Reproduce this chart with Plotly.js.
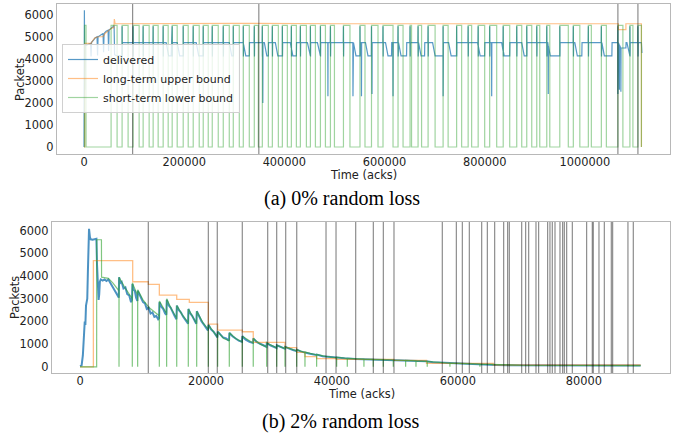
<!DOCTYPE html>
<html><head><meta charset="utf-8">
<script src="https://cdn.plot.ly/plotly-3.0.1.min.js"></script>
<style>html,body{margin:0;padding:0;background:#fff}#chart{width:681px;height:435px}</style>
</head><body><div id="chart"></div>
<script>
// ---------- labels / ticks ----------
const seriesNames = ['delivered', 'long-term upper bound', 'short-term lower bound'];
const topXTicks = [0, 200000, 400000, 600000, 800000, 1000000];
const botXTicks = [0, 20000, 40000, 60000, 80000];
const yTicks = [0, 1000, 2000, 3000, 4000, 5000, 6000];
const captions = ['(a) 0% random loss', '(b) 2% random loss'];
const xTitle = 'Time (acks)', yTitle = 'Packets';

// ---------- (a) 0% random loss ----------
const topVlines = [97000, 349000, 1066000, 1106000];
const topOrange = [[0,0],[1500,0],[1500,4700],[14000,4700],[18000,4850],[22000,4950],[28000,5000],[38000,5000],[42000,5150],[46000,5250],[50000,5300],[56000,5400],[59500,5400],[60500,5800],[62000,5590],[300000,5610],[520000,5590],[1067000,5590],[1067000,5320],[1082000,5320],[1082000,5590],[1113000,5590],[1113000,0]];
const topGreenLevel = 5520;
const topGreenPulses = [[1000,4000],[54000,66000],[76000,88000],[98000,110000],[118000,130000],[138000,148000],[158000,168000],[176000,186000],[198000,208000],[218000,230000],[238000,248000],[256000,268000],[278000,290000],[298000,310000],[318000,330000],[340000,348000],[356000,368000],[376000,388000],[396000,406000],[414000,424000],[432000,444000],[452000,462000],[472000,482000],[492000,500000],[518000,531000],[551000,561000],[574000,587000],[597000,617000],[627000,637000],[651000,654000],[667000,674000],[687000,701000],[717000,727000],[744000,754000],[767000,774000],[787000,800000],[810000,824000],[837000,850000],[864000,874000],[884000,894000],[904000,910000],[924000,930000],[950000,967000],[977000,990000],[1007000,1013000],[1033000,1043000],[1066000,1076000],[1090000,1096000],[1106000,1113000]];
const topBlueStart = [[0,0],[700,6200],[1400,2600],[2200,4600],[8000,4650],[13000,4700],[14000,4100],[15000,4750],[19000,4850],[22000,4950],[26000,5000],[27000,4150],[28000,5000],[34000,5100],[38000,5150],[39000,4300],[40000,5150],[44000,5250],[48000,5300],[49000,4350],[50000,5300],[55000,5400],[58000,5450],[60000,5500],[61000,4200],[63000,4150],[70000,4150],[75500,4150],[76000,4730]];
const topBlueBase = 4730;
const topBlueSpikeTop = 5480;
const topBlueSpikeBottom = 4100;
const topBlueLows = [[164000,174000,4130],[186000,198000,4130],[224000,238000,4130],[290000,298000,4130],[318000,330000,4130],[360000,368000,4130],[382000,396000,4130],[412000,424000,4130],[446000,452000,4130],[466000,472000,4130],[538000,551000,4130],[562000,574000,4130],[602000,614000,4130],[628000,644000,4130],[668000,680000,4130],[696000,717000,4130],[728000,744000,4130],[786000,800000,4130],[834000,850000,4130],[874000,884000,4130],[926000,950000,4130],[980000,994000,4130],[1034000,1054000,4130],[1067000,1082000,4490],[1084000,1090000,4130]];
const topBlueDips = [[357000,2000],[487000,2300],[537000,2300],[554000,2300],[575000,2400],[617000,2300],[717000,2300],[814000,2300],[927000,2400],[1066000,2400],[1069000,2600],[1072000,2500]];
const topBlueEnd = [[1113000,4730],[1114000,4260]];

// ---------- (b) 2% random loss ----------
const botVlines = [10840,20370,21790,25760,29790,31220,32650,34400,39050,40640,43760,46560,48150,49840,57510,59740,60690,61800,63760,64660,65820,67250,67880,68150,70110,70740,71220,72380,72800,74230,74600,74970,75400,76190,76610,76880,77250,78150,80420,81320,81480,82380,83230,84340,84550,86980,87830];
const botOrange = [[0,0],[2120,4680],[8360,3750],[10840,3630],[12590,3160],[15350,2970],[17350,2840],[20370,1880],[21850,1620],[25760,1545],[27500,1080],[32540,850],[34390,640],[35710,450],[37560,360],[40700,330],[49840,280],[55000,150],[65600,80],[89000,80]];
const botBlue = [[0,30],[250,60],[450,500],[550,850],[650,1500],[750,2000],[850,1850],[950,2700],[1050,2950],[1150,3000],[1250,4200],[1350,5200],[1430,6080],[1500,5900],[1580,5700],[1700,5620],[2000,5600],[2300,5620],[2600,5640],[2700,4500],[2850,3100],[2950,2950],[3050,3200],[3150,3750],[3300,3850],[3600,3800],[3900,3850],[4200,3780],[4500,3850],[4800,3700],[5100,3550],[5400,3400],[5700,3250],[6000,3150],[6150,3050],
[6200,3950],[6400,3700],[6600,3750],[6900,3450],[7200,3500],[7500,3200],[7800,3150],[8100,2850],[8250,2950],
[8320,3650],[8500,3400],[8700,3350],[8900,3050],[9100,2900],
[9170,3350],[9400,3200],[9700,3050],[10000,2850],[10300,2800],[10600,2550],[10900,2600],[11200,2350],[11500,2400],[11800,2200],[12100,2250],[12400,2100],[12550,2150],
[12610,2850],[12900,2650],[13200,2550],[13500,2350],[13700,2300],
[13770,2950],[14100,2700],[14400,2600],[14700,2400],[15000,2250],[15300,2100],
[15370,2700],[15700,2500],[16000,2400],[16400,2200],[16800,2050],[17150,1900],
[17210,2550],[17500,2350],[17800,2250],[18100,2050],[18450,1900],
[18540,2450],[18900,2200],[19300,2000],[19700,1850],[20000,1700],[20300,1600],
[20390,1850],[20800,1650],[21200,1550],[21600,1350],[21800,1300],
[21870,1550],[22300,1400],[22700,1300],[23200,1250],[23650,1150],
[23720,1500],[24200,1350],[24700,1250],[25200,1150],[25700,1100],
[25780,1350],[26300,1200],[26900,1100],[27450,1050],
[27520,1250],[28000,1100],[28600,1000],[29100,950],[29600,880],
[29650,1050],[30200,950],[30700,900],[31200,830],
[31240,950],[31800,880],[32500,800],
[32560,880],[33200,800],[33800,740],[34350,700],
[34410,760],[35000,680],[35700,620],
[35730,650],[36500,580],[37500,520],
[37580,540],[38500,470],[39500,440],[40700,400],
[40760,430],[42000,380],[43700,350],[46000,330],[48000,320],[50000,290],[52000,270],[55000,240],[56000,200],[58000,170],[60000,150],[62000,130],[64000,110],[66000,80],[68000,70],[72000,60],[78000,55],[84000,55],[89000,55]];
const botGreen = [[0,0],[2640,0],[2650,5600],[3400,5600],[3420,3950],[4500,3900],[5200,3700],[6000,3400],[6180,3350],[6190,0],[6200,3950],[7000,3550],[7800,3200],[8290,3000],[8300,0],[8310,3700],[9140,3150],[9150,0],[9160,3400],[10000,2950],[11000,2600],[12580,2250],[12590,0],[12600,2900],[13740,2350],[13750,0],[13760,3000],[14500,2550],[15340,2150],[15350,0],[15360,2700],[16200,2300],[17180,1950],[17190,0],[17200,2550],[18510,1900],[18520,0],[18530,2450],[19500,1950],[20360,1650],[20370,0],[20380,1850],[21840,1300],[21850,0],[21860,1550],[22800,1250],[23690,1150],[23700,0],[23710,1500],[24700,1250],[25750,1100],[25760,0],[25770,1350],[27490,1050],[27500,0],[27510,1250],[28600,1000],[29620,880],[29630,0],[29640,1050],[31210,830],[31220,0],[31230,950],[32530,800],[32540,0],[32550,880],[34380,700],[34390,0],[34400,760],[35700,620],[35710,0],[35720,650],[37550,520],[37560,0],[37570,540],[39000,460],[40730,400],[40740,0],[40750,430],[42420,370],[42430,0],[42440,370],[45060,340],[45070,0],[45080,340],[46540,330],[46550,0],[46560,330],[48130,320],[48140,0],[48150,320],[49720,300],[49730,0],[49740,300],[51680,280],[51690,0],[51700,280],[53320,260],[53330,0],[53340,260],[55110,240],[55120,0],[55130,240],[58710,160],[58720,0],[58730,160],[63470,120],[63480,0],[63490,120],[70000,70],[80000,60],[89000,55]];

// ---------- assemble drawable paths ----------
function lowAt(t) {
  for (const [a, b, lv] of topBlueLows) {
    if (t >= a && t <= b + 400) {
      if (t < a + 5000) return topBlueBase + (lv - topBlueBase) * (t - a) / 5000;
      return lv;
    }
  }
  return topBlueBase;
}
let tb = topBlueStart.slice();
let ev = [];
ev.push([80000, topBlueBase]);
for (const [a, b, lv] of topBlueLows) { ev.push([a, topBlueBase]); ev.push([a + 5000, lv]); ev.push([b, lv]); ev.push([b + 400, topBlueBase]); }
for (const [a] of topGreenPulses) {
  if (a < 76000) continue;
  const lv = lowAt(a);
  ev.push([a - 300, lv]); ev.push([a, topBlueSpikeTop]); ev.push([a + 300, topBlueSpikeBottom]); ev.push([a + 600, lowAt(a + 600)]);
}
for (const [d, v] of topBlueDips) { const lv = lowAt(d); ev.push([d - 300, lv]); ev.push([d, v]); ev.push([d + 300, lowAt(d + 300)]); }
ev.sort((p, q) => p[0] - q[0]);
tb = tb.concat(ev).concat(topBlueEnd);

const gx = [0], gy = [0];
for (const [a, b] of topGreenPulses) { gx.push(a, b); gy.push(topGreenLevel, 0); }

const xs = a => a.map(p => p[0]), ys = a => a.map(p => p[1]);

const cBlue = 'rgba(31,119,180,0.75)', cOrange = 'rgba(255,127,14,0.5)', cGreen = 'rgba(44,160,44,0.45)';
const traces = [
  {x: xs(tb), y: ys(tb), xaxis: 'x', yaxis: 'y', mode: 'lines', name: seriesNames[0], line: {color: cBlue, width: 1.2}},
  {x: xs(topOrange), y: ys(topOrange), xaxis: 'x', yaxis: 'y', mode: 'lines', name: seriesNames[1], line: {color: cOrange, width: 1.2}},
  {x: gx, y: gy, xaxis: 'x', yaxis: 'y', mode: 'lines', name: seriesNames[2], line: {color: cGreen, width: 1.2, shape: 'hv'}},
  {x: xs(botBlue), y: ys(botBlue), xaxis: 'x2', yaxis: 'y2', mode: 'lines', showlegend: false, line: {color: 'rgba(31,119,180,0.8)', width: 2}},
  {x: xs(botOrange), y: ys(botOrange), xaxis: 'x2', yaxis: 'y2', mode: 'lines', showlegend: false, line: {color: cOrange, width: 1.3, shape: 'hv'}},
  {x: xs(botGreen), y: ys(botGreen), xaxis: 'x2', yaxis: 'y2', mode: 'lines', showlegend: false, line: {color: 'rgba(44,160,44,0.6)', width: 1.2}}
];

const shapes = [];
for (const v of topVlines) shapes.push({type: 'line', xref: 'x', yref: 'y domain', x0: v, x1: v, y0: 0, y1: 1, line: {color: 'rgba(0,0,0,0.45)', width: 1.2}, layer: 'above'});
for (const v of botVlines) shapes.push({type: 'line', xref: 'x2', yref: 'y2 domain', x0: v, x1: v, y0: 0, y1: 1, line: {color: 'rgba(0,0,0,0.45)', width: 1.2}, layer: 'above'});

const tickFont = {family: 'DejaVu Sans', size: 11.4, color: '#222'};
const titleFont = {family: 'DejaVu Sans', size: 11.4, color: '#222'};
const axBase = {showgrid: false, zeroline: false, showline: true, mirror: true, linecolor: '#b8b8b8', linewidth: 1.2, ticks: '', ticklen: 0, tickfont: tickFont, tickformat: 'd'};

function paperX(px) { return px / 681; }
function paperY(py) { return 1 - py / 435; }
const ann = (text, px, py, font, angle) => ({text: text, xref: 'paper', yref: 'paper', x: paperX(px), y: paperY(py), xanchor: 'center', yanchor: 'middle', showarrow: false, borderpad: 0, textangle: angle || 0, font: font});

const capFont = {family: 'Liberation Serif', size: 20, color: '#000'};

const layout = {
  width: 681, height: 435,
  margin: {l: 0, r: 0, t: 0, b: 0},
  paper_bgcolor: '#fff', plot_bgcolor: '#fff',
  showlegend: true,
  legend: {x: paperX(62), y: paperY(78.5), xanchor: 'left', yanchor: 'middle', bgcolor: 'rgba(255,255,255,0.8)', bordercolor: '#d0d0d0', borderwidth: 1, itemwidth: 30, font: {family: 'DejaVu Sans', size: 11, color: '#222'}},
  xaxis: Object.assign({}, axBase, {domain: [0.0837, 0.9838], range: [-54000, 1170000], tickvals: topXTicks, anchor: 'y', ticklabelstandoff: -3}),
  yaxis: Object.assign({}, axBase, {domain: [0.646, 0.9908], range: [-317, 6485], tickvals: yTicks, anchor: 'x'}),
  xaxis2: Object.assign({}, axBase, {domain: [0.0764, 0.9838], range: [-4444, 93650], tickvals: botXTicks, anchor: 'y2', ticklabelstandoff: -3}),
  yaxis2: Object.assign({}, axBase, {domain: [0.1425, 0.4897], range: [-273, 6384], tickvals: yTicks, anchor: 'x2'}),
  shapes: shapes,
  annotations: [
    ann(xTitle, 363, 174.5, titleFont),
    ann(yTitle, 20, 80, titleFont, -90),
    ann(xTitle, 361, 393.5, titleFont),
    ann(yTitle, 15, 298, titleFont, -90),
    ann(captions[0], 342, 198, capFont),
    ann(captions[1], 340, 421, capFont)
  ]
};
Plotly.newPlot('chart', traces, layout, {displayModeBar: false, staticPlot: true});
</script></body></html>
